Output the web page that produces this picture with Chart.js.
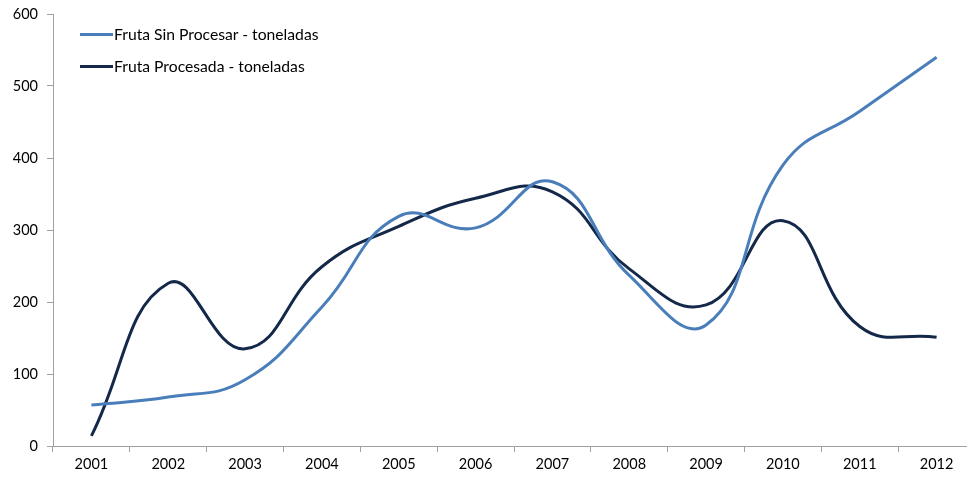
<!DOCTYPE html>
<html>
<head>
<meta charset="utf-8">
<script src="https://cdn.jsdelivr.net/npm/chart.js@4/dist/chart.umd.min.js"></script>
<style>
    html, body { margin: 0; padding: 0; background: #fff; overflow: hidden; }
    #wrap { position: relative; width: 976px; height: 477px; }
    #leyenda { position: absolute; left: 80px; top: 18px; font-family: Lato, sans-serif; font-size: 15.7px; color: #000; }
    .item { display: flex; align-items: center; height: 32px; }
    .linea { width: 33px; height: 3px; margin-right: 1px; }
</style>
</head>
<body>
<div id="wrap">
    <canvas id="graficoFruta" width="976" height="477"></canvas>
    <div id="leyenda"></div>
</div>
<script>
const anios = ['2001', '2002', '2003', '2004', '2005', '2006', '2007', '2008', '2009', '2010', '2011', '2012']
const frutaSinProcesar = [57, 68, 92, 193, 319, 303, 367, 237, 168, 390, 465, 540]
const frutaProcesada = [14, 226, 135, 249, 305, 344, 353, 246, 196, 313, 166, 151]
const nombres = ['Fruta Sin Procesar - toneladas', 'Fruta Procesada - toneladas']
const colores = ['#4A7EBB', '#14284A']

const fuente = { family: 'Lato, sans-serif', size: 14.5 }

const datasets = [frutaSinProcesar, frutaProcesada].map((serie, i) => ({
    label: nombres[i],
    data: serie,
    borderColor: colores[i],
    backgroundColor: colores[i],
    borderWidth: 3,
    pointRadius: 0,
    tension: 0.45,
    fill: false
}))

// leyenda dentro del area del grafico, como en el original
let leyenda = document.getElementById('leyenda')
datasets.forEach(ds => {
    let item = document.createElement('div')
    item.className = 'item'
    item.innerHTML = `<span class="linea" style="background:${ds.borderColor}"></span><span>${ds.label}</span>`
    leyenda.appendChild(item)
})

const graficoFruta = new Chart(document.getElementById('graficoFruta'), {
    type: 'line',
    data: {
        labels: anios,
        datasets: datasets
    },
    options: {
        responsive: false,
        animation: false,
        layout: {
            padding: { left: 0, right: 1, top: 14, bottom: 0 }
        },
        plugins: {
            legend: { display: false },
            tooltip: { enabled: false }
        },
        scales: {
            x: {
                offset: true,
                grid: {
                    offset: true,
                    drawOnChartArea: false,
                    drawTicks: true,
                    tickLength: 6,
                    color: '#A0A0A0'
                },
                border: { color: '#A0A0A0', width: 1 },
                ticks: {
                    color: '#000',
                    font: fuente,
                    padding: 4,
                    maxRotation: 0
                },
                afterFit: function (scale) {
                    scale.height = 31
                }
            },
            y: {
                min: 0,
                max: 600,
                grid: {
                    drawOnChartArea: false,
                    drawTicks: true,
                    tickLength: 6,
                    color: '#A0A0A0'
                },
                border: { color: '#A0A0A0', width: 1 },
                ticks: {
                    stepSize: 100,
                    color: '#000',
                    font: fuente,
                    padding: 9
                },
                afterFit: function (scale) {
                    scale.width = 53
                    scale.paddingTop = 0
                    scale.paddingBottom = 0
                }
            }
        }
    }
})
</script>
</body>
</html>
